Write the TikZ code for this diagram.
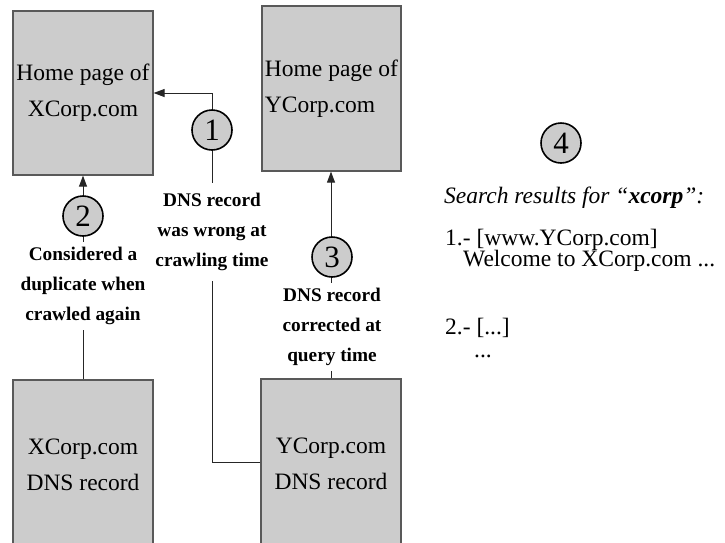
\documentclass[tikz,border=0pt]{standalone}
\usepackage{fontspec}
\setmainfont{Liberation Serif}
\usetikzlibrary{arrows.meta}
\definecolor{boxgray}{HTML}{CCCCCC}
\begin{document}
\begin{tikzpicture}[x=1pt,y=-1pt,
  page/.style={draw=black!65, line width=1.2pt, fill=boxgray, inner sep=0pt,
    font=\fontsize{23.5}{36}\selectfont},
  stepnum/.style={circle, draw=black, line width=1.6pt, fill=boxgray,
    minimum size=40pt, inner sep=0pt, font=\fontsize{31}{31}\selectfont},
  note/.style={fill=white, align=center, inner xsep=2pt, inner ysep=6pt,
    font=\bfseries\fontsize{19.3}{30}\selectfont},
  link/.style={draw=black!85, line width=1pt},
  arr/.style={link, -{Triangle[length=11pt,width=8pt]}},
  result/.style={anchor=base west, inner sep=0pt, font=\fontsize{23.5}{28}\selectfont}]
\useasboundingbox (0,0) rectangle (725,542);
\clip (0,0) rectangle (725,542);

% web pages and DNS records
\node[page, minimum width=140pt, minimum height=164pt, align=center] (xhome) at (83,93)
  {Home page of\\XCorp.com};
\node[page, minimum width=139pt, minimum height=165pt, align=left] (yhome) at (331.5,88.5)
  {Home page of\\YCorp.com};
\node[page, minimum width=140pt, minimum height=170pt, align=center] (xdns) at (83,465)
  {XCorp.com\\DNS record};
\node[page, minimum width=140pt, minimum height=170pt, align=center] (ydns) at (331,464)
  {YCorp.com\\DNS record};

% connectors
\coordinate (low1) at (212,462);
\coordinate (high1) at (212,93);
\draw[arr] (low1 -| ydns.west) -- (low1) -- (high1) -- (high1 -| xhome.east);
\draw[arr] (xdns.north) -- (xhome.south);
\draw[arr] (ydns.north) -- (ydns.north |- yhome.south);

% labels on the connectors
\node[note, inner ysep=10pt] (n1) at (212,232) {DNS record\\was wrong at\\crawling time};
\node[note, inner ysep=5pt] (n2) at (83,286) {Considered a\\duplicate when\\crawled again};
\node[note, inner ysep=5pt] (n3) at (332,327) {DNS record\\corrected at\\query time};

% step markers
\node[stepnum] (s1) at (212,130) {1};
\node[stepnum] (s2) at (83,216) {2};
\node[stepnum] (s3) at (332,257) {3};
\node[stepnum] (s4) at (561,143) {4};

% search results
\node[result] (r0) at (444,203) {\itshape Search results for “\textbf{xcorp}”:};
\node[result] (r1) at (445,245) {1.- [www.YCorp.com]};
\node[result] (r2) at (463,266) {Welcome to XCorp.com ...};
\node[result] (r3) at (445,334) {2.- [...]};
\node[result] (r4) at (474,357) {...};
\end{tikzpicture}
\end{document}
